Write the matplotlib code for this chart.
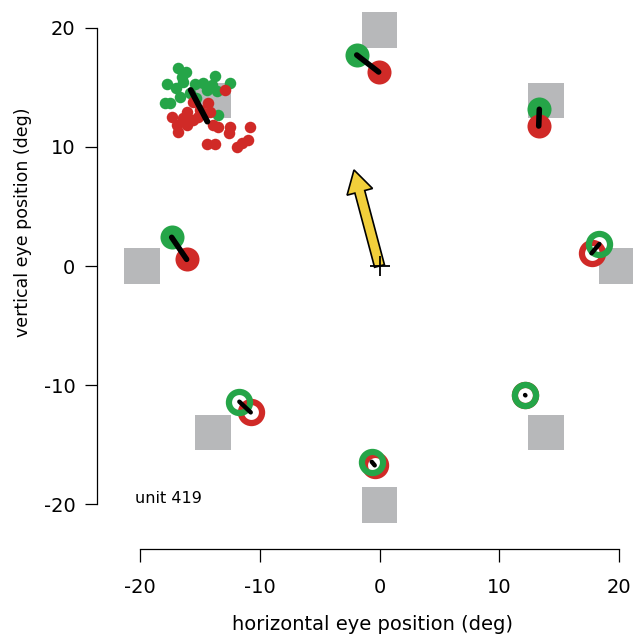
"""Eye-position map for one unit: saccade targets, mean landing points and trial scatter."""
import matplotlib
matplotlib.use("Agg")
import matplotlib.pyplot as plt
from matplotlib.patches import Rectangle

plt.rcParams["axes.unicode_minus"] = False

GREEN = "#25a548"
RED = "#d02a27"
GRAY = "#b7b8ba"
YELLOW = "#f1cf3b"

# Saccade targets (deg)
target_x = [0.0, 13.9, 19.8, 13.9, 0.0, -13.9, -19.8, -13.9]
target_y = [19.8, 13.9, 0.0, -14.0, -20.1, -14.0, 0.0, 13.9]

# Mean end points shown as filled discs (top, upper right, left)
filled_green_x = [-1.90, 13.34, -17.35]
filled_green_y = [17.73, 13.17, 2.41]
filled_red_x = [-0.07, 13.29, -16.10]
filled_red_y = [16.30, 11.76, 0.56]

# Mean end points shown as rings (right, lower right, bottom, lower left)
ring_green_x = [18.35, 12.15, -0.65, -11.70]
ring_green_y = [1.85, -10.84, -16.45, -11.40]
ring_red_x = [17.70, 12.18, -0.40, -10.75]
ring_red_y = [1.07, -10.87, -16.75, -12.30]

# Single trials, upper-left target
trial_green_x = [-16.82, -16.15, -16.49, -17.74, -16.40, -14.73, -13.73, -12.48, -13.98,
                 -16.65, -17.49, -13.48, -14.40, -13.56, -15.82, -15.32, -16.99, -15.40, -17.90]
trial_green_y = [16.64, 16.30, 15.88, 15.29, 15.46, 15.38, 15.97, 15.38, 15.21,
                 14.20, 13.70, 12.69, 14.79, 14.71, 14.54, 14.12, 14.96, 15.30, 13.70]
trial_red_x = [-12.90, -17.32, -16.07, -15.57, -14.31, -16.90, -16.07, -16.82, -15.15, -13.90,
               -13.48, -12.48, -12.56, -10.81, -14.40, -13.73, -11.89, -11.48, -10.98, -14.15,
               -15.57, -16.40, -14.98]
trial_red_y = [14.79, 12.52, 12.94, 13.78, 13.70, 11.85, 11.85, 11.26, 12.52, 11.85,
               11.68, 11.68, 11.18, 11.68, 10.25, 10.25, 10.00, 10.34, 10.59, 12.94,
               12.27, 12.44, 13.11]
trial_green_mean = (-15.76, 14.79)
trial_red_mean = (-14.37, 12.13)

# Population vector
vector_dx, vector_dy = -2.13, 8.07

TICKS = [-20, -10, 0, 10, 20]
UNIT_LABEL = "unit 419"


def main():
    fig = plt.figure(figsize=(6.33, 6.34), dpi=100)
    ax = fig.add_axes([0, 0, 1, 1])
    ax.set_xlim(-31.68, 21.16)
    ax.set_ylim(-30.92, 22.35)

    # targets
    side = 3.0
    for tx, ty in zip(target_x, target_y):
        ax.add_patch(Rectangle((tx - side / 2, ty - side / 2), side, side,
                               facecolor=GRAY, edgecolor="none", zorder=1, clip_on=False))

    # vector arrow and origin cross
    ax.arrow(0, 0, vector_dx, vector_dy, width=0.85, head_width=2.2, head_length=1.9,
             length_includes_head=True, facecolor=YELLOW, edgecolor="black",
             linewidth=1.2, zorder=2)
    ax.plot(0, 0, marker="+", markersize=14, markeredgewidth=1.3, color="black", zorder=3)

    # single trials
    ax.plot(trial_green_x, trial_green_y, "o", ms=8.3, mew=0, color=GREEN, zorder=4)
    ax.plot(trial_red_x, trial_red_y, "o", ms=8.3, mew=0, color=RED, zorder=4)
    ax.plot([trial_green_mean[0], trial_red_mean[0]], [trial_green_mean[1], trial_red_mean[1]],
            color="black", lw=4.2, solid_capstyle="round", zorder=8)

    # filled means
    ax.plot(filled_green_x, filled_green_y, "o", ms=17.3, mew=0, color=GREEN, zorder=5)
    ax.plot(filled_red_x, filled_red_y, "o", ms=17.3, mew=0, color=RED, zorder=5)
    for gx, gy, rx, ry in zip(filled_green_x, filled_green_y, filled_red_x, filled_red_y):
        ax.plot([gx, rx], [gy, ry], color="black", lw=4.0, solid_capstyle="round", zorder=8)

    # ring means
    ax.plot(ring_red_x, ring_red_y, "o", ms=15.2, mew=4.5, mfc="none", mec=RED, zorder=6)
    ax.plot(ring_green_x, ring_green_y, "o", ms=15.2, mew=4.5, mfc="none", mec=GREEN, zorder=7)
    for gx, gy, rx, ry in zip(ring_green_x, ring_green_y, ring_red_x, ring_red_y):
        ax.plot([gx, rx], [gy, ry], color="black", lw=3.2, solid_capstyle="round", zorder=8)

    ax.text(-20.4, -19.9, UNIT_LABEL, fontsize=11.5, ha="left", va="baseline")

    # axes
    for side_name in ("top", "right"):
        ax.spines[side_name].set_visible(False)
    ax.spines["left"].set_position(("data", -23.6))
    ax.spines["left"].set_bounds(-20, 20)
    ax.spines["bottom"].set_position(("data", -23.8))
    ax.spines["bottom"].set_bounds(-20, 20)
    for sp in ("left", "bottom"):
        ax.spines[sp].set_linewidth(0.9)
    ax.set_xticks(TICKS)
    ax.set_yticks(TICKS)
    ax.tick_params(direction="out", length=9, width=0.9, labelsize=14)
    ax.tick_params(axis="y", pad=6.5)
    ax.tick_params(axis="x", pad=12)

    ax.set_xlabel("horizontal eye position (deg)", fontsize=14)
    ax.xaxis.label.set_va("center")
    ax.xaxis.set_label_coords(372 / 633, 1 - 624 / 634)
    ax.set_ylabel("vertical eye position (deg)", fontsize=12.5)
    ax.yaxis.label.set_va("center")
    ax.yaxis.set_label_coords(23 / 633, 1 - 222 / 634)

    fig.savefig("out.png", dpi=100)
    plt.close(fig)


if __name__ == "__main__":
    main()
